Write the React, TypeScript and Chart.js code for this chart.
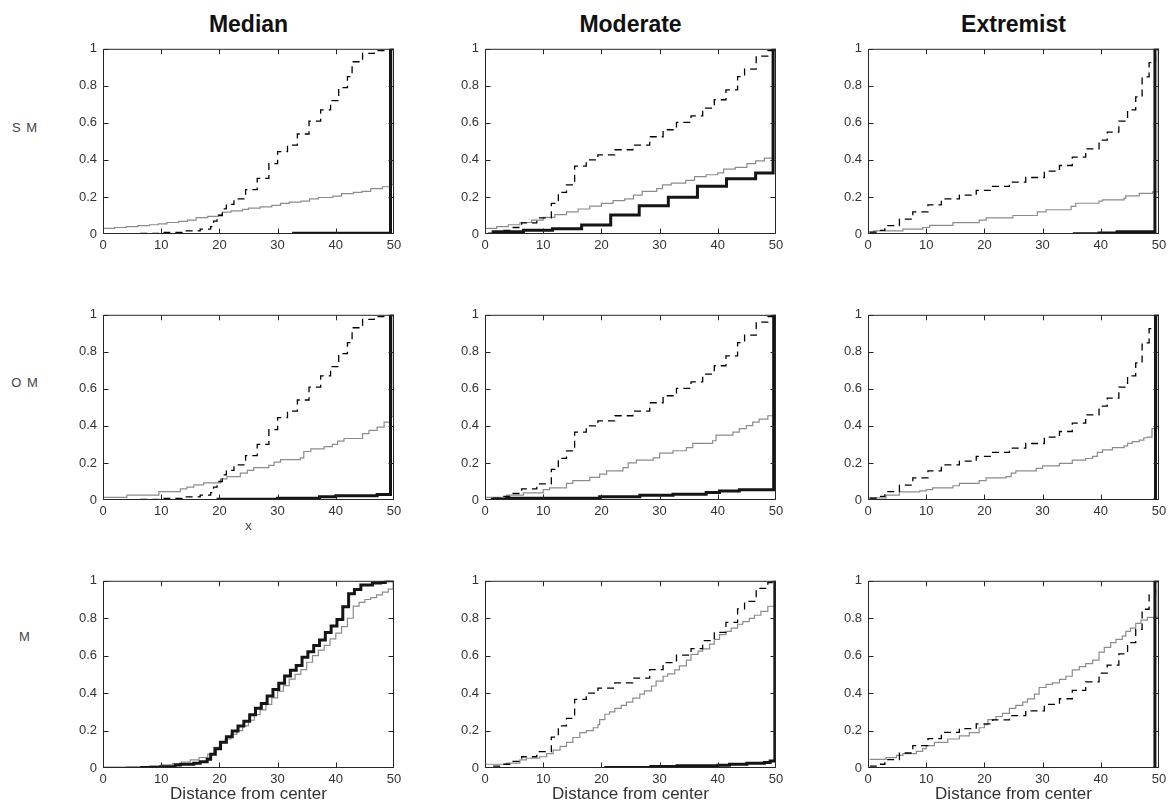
import React, { useEffect, useRef } from 'react';
import { Chart, registerables } from 'chart.js';

Chart.register(...registerables);

// ---------- tick labels / texts ----------
const X_TICKS = [0, 10, 20, 30, 40, 50];
const Y_TICKS = [0, 0.2, 0.4, 0.6, 0.8, 1];
const COLUMN_TITLES = ['Median', 'Moderate', 'Extremist'];
const ROW_LABELS = ['S M', 'O M', 'M'];
const X_AXIS_TITLE = 'Distance from center';

// ---------- reference (dashed) curves, one per column ----------
// median curve, read at each unit step (as drawn thick in the M row)
const MEDIAN_X = [6.4, 9.9, 12.4, 13.3, 15.6, 16.7, 17.9, 18.5, 19.3, 20.2, 21.2, 22.2, 23.2, 24.2, 25.2, 26.2, 27.2, 28.2, 29.2, 30.2, 31.2, 32.2, 33.2, 34.2, 35.2, 36.2, 37.2, 38.2, 39.2, 40.2, 41.2, 42.2, 43.2, 44.3, 46.3, 47.7, 48.5];
const MEDIAN_Y = [0.003, 0.007, 0.016, 0.02, 0.026, 0.034, 0.047, 0.074, 0.103, 0.138, 0.167, 0.198, 0.224, 0.25, 0.284, 0.319, 0.345, 0.384, 0.419, 0.453, 0.491, 0.522, 0.547, 0.591, 0.621, 0.655, 0.684, 0.724, 0.759, 0.793, 0.862, 0.931, 0.953, 0.978, 0.988, 0.991, 1.0];
// median curve as read from the visible dashed corners (rows S M, O M)
const MEDIAN_DASH_X = [6.4, 10.5, 13.6, 16.7, 18.5, 19.0, 19.6, 20.5, 21.2, 22.5, 24.5, 26.5, 28.5, 30.0, 31.7, 33.4, 35.4, 37.4, 39.1, 40.5, 42.0, 42.8, 44.6, 46.6, 49.5];
const MEDIAN_DASH_Y = [0.003, 0.008, 0.017, 0.026, 0.04, 0.07, 0.10, 0.136, 0.16, 0.19, 0.24, 0.30, 0.38, 0.445, 0.48, 0.54, 0.61, 0.67, 0.72, 0.79, 0.85, 0.93, 0.975, 0.99, 1.0];

const MODERATE_X = [1.4, 2.9, 4.6, 6.3, 8.9, 11.4, 12.6, 14.0, 15.4, 17.4, 19.4, 22.3, 25.4, 28.3, 30.6, 32.9, 35.4, 37.4, 39.4, 41.4, 43.4, 44.6, 46.6, 48.6, 49.8];
const MODERATE_Y = [0.01, 0.02, 0.035, 0.06, 0.087, 0.165, 0.225, 0.265, 0.367, 0.40, 0.427, 0.455, 0.48, 0.525, 0.563, 0.603, 0.638, 0.68, 0.725, 0.778, 0.85, 0.89, 0.96, 0.99, 1.0];

const EXTREMIST_X = [0.3, 1.4, 2.9, 5.4, 7.7, 10.3, 12.6, 15.7, 18.6, 21.4, 24.3, 27.1, 30.3, 32.9, 35.1, 37.4, 39.7, 41.1, 43.1, 44.6, 46.0, 47.1, 48.3, 49.4];
const EXTREMIST_Y = [0.01, 0.02, 0.045, 0.08, 0.12, 0.157, 0.19, 0.21, 0.236, 0.257, 0.28, 0.305, 0.34, 0.37, 0.415, 0.46, 0.507, 0.55, 0.61, 0.67, 0.74, 0.848, 0.925, 1.0];

// ---------- row S M ----------
const SM_MED_GRAY_X = [0, 2, 4, 6, 8, 9.5, 11, 13, 14.5, 16, 18, 19.8, 20.5, 22, 24, 25, 27, 29, 30.5, 32, 34, 35.5, 37, 39.5, 41, 43, 44.5, 46, 48, 49.6, 49.85];
const SM_MED_GRAY_Y = [0.03, 0.035, 0.04, 0.045, 0.05, 0.055, 0.062, 0.068, 0.075, 0.088, 0.095, 0.105, 0.118, 0.125, 0.133, 0.14, 0.147, 0.155, 0.165, 0.172, 0.178, 0.19, 0.197, 0.205, 0.218, 0.225, 0.23, 0.245, 0.255, 0.268, 1];
const SM_MED_THICK_X = [32.5, 49.4];
const SM_MED_THICK_Y = [0.004, 1];

const SM_MOD_GRAY_X = [0, 2, 4, 6, 8, 10, 12, 14, 16, 18, 20, 22, 24, 25.5, 27, 29.5, 30.5, 32, 34.5, 36, 38, 40, 41, 43, 45, 46.5, 48, 49.85];
const SM_MOD_GRAY_Y = [0.03, 0.04, 0.05, 0.062, 0.075, 0.09, 0.105, 0.12, 0.135, 0.15, 0.165, 0.18, 0.19, 0.21, 0.23, 0.245, 0.265, 0.275, 0.29, 0.31, 0.32, 0.33, 0.35, 0.36, 0.38, 0.395, 0.41, 1];
const SM_MOD_THICK_X = [0.5, 1.4, 6.6, 11.6, 16.6, 21.6, 26.5, 31.5, 36.5, 41.5, 46.5, 49.5];
const SM_MOD_THICK_Y = [0, 0.012, 0.02, 0.028, 0.048, 0.103, 0.152, 0.198, 0.258, 0.298, 0.33, 1];

const SM_EXT_GRAY_X = [0, 1, 6, 9.4, 10.6, 14.6, 19.1, 20.3, 24.9, 29.1, 30.6, 34.9, 35.7, 39.7, 40.3, 44, 44.3, 46.6, 48.9, 49.85];
const SM_EXT_GRAY_Y = [0.01, 0.017, 0.026, 0.035, 0.047, 0.061, 0.075, 0.087, 0.1, 0.119, 0.131, 0.149, 0.166, 0.178, 0.184, 0.192, 0.206, 0.219, 0.227, 1];
const SM_EXT_THICK_X = [35.2, 39.7, 42.8, 49.3];
const SM_EXT_THICK_Y = [0.002, 0.006, 0.012, 1];

// ---------- row O M ----------
const OM_MED_GRAY_X = [0, 4.1, 9.6, 13.3, 14.4, 15.6, 17.3, 20.2, 21.3, 23.6, 24.8, 25.9, 28.5, 29.4, 30.5, 33.9, 34.5, 35.7, 38, 39.4, 40.3, 41.4, 44.6, 45.7, 47.1, 48.3, 49.4, 49.85];
const OM_MED_GRAY_Y = [0.014, 0.026, 0.045, 0.06, 0.07, 0.082, 0.093, 0.114, 0.126, 0.145, 0.16, 0.175, 0.187, 0.205, 0.218, 0.227, 0.262, 0.276, 0.288, 0.3, 0.318, 0.332, 0.358, 0.376, 0.393, 0.42, 0.45, 1];
const OM_MED_THICK_X = [19.5, 30.0, 37.2, 40.0, 47.1, 49.4];
const OM_MED_THICK_Y = [0.004, 0.009, 0.017, 0.023, 0.03, 1];

const OM_MOD_GRAY_X = [0, 3.7, 6.6, 10, 11.1, 14, 15.1, 18, 19.7, 20.9, 23.7, 24.6, 26, 28.9, 30, 32.3, 34.6, 35.7, 39.1, 39.7, 42.6, 43.7, 44.9, 46, 47.1, 48.6, 49.85];
const OM_MOD_GRAY_Y = [0.014, 0.026, 0.038, 0.056, 0.066, 0.09, 0.105, 0.122, 0.14, 0.157, 0.175, 0.2, 0.215, 0.227, 0.253, 0.266, 0.283, 0.306, 0.32, 0.35, 0.367, 0.385, 0.402, 0.42, 0.437, 0.455, 1];
const OM_MOD_THICK_X = [1.0, 3.7, 19.7, 26.6, 32.3, 38, 40.3, 43.7, 49.6];
const OM_MOD_THICK_Y = [0.004, 0.009, 0.017, 0.026, 0.031, 0.04, 0.049, 0.056, 1];

const OM_EXT_GRAY_X = [0, 3.1, 5.4, 8.9, 10, 11.1, 14.6, 15.7, 19.1, 20.3, 23.7, 24.6, 25.4, 28.9, 30, 32.9, 35.1, 37.4, 38.6, 39.4, 40.3, 42, 44, 44.6, 45.4, 46.6, 47.4, 48, 48.8, 49.85];
const OM_EXT_GRAY_Y = [0.012, 0.026, 0.044, 0.049, 0.056, 0.065, 0.077, 0.09, 0.105, 0.119, 0.126, 0.145, 0.157, 0.171, 0.184, 0.198, 0.215, 0.224, 0.236, 0.257, 0.271, 0.283, 0.292, 0.306, 0.315, 0.323, 0.336, 0.34, 0.385, 1];
const OM_EXT_THICK_X = [49.0, 49.4];
const OM_EXT_THICK_Y = [0, 1];

// ---------- row M ----------
const M_MED_GRAY_X = [0, 4, 8, 10, 12, 13.5, 15, 16.5, 18, 19, 20, 21, 22, 23, 24, 25, 26, 27, 28, 29, 30, 31, 32, 33, 34, 35, 36, 37, 38, 39, 40, 41, 42, 43, 44, 45, 46, 47, 48, 49, 49.85];
const M_MED_GRAY_Y = [0.005, 0.008, 0.012, 0.017, 0.024, 0.032, 0.043, 0.056, 0.074, 0.11, 0.138, 0.155, 0.18, 0.2, 0.225, 0.255, 0.285, 0.31, 0.34, 0.375, 0.41, 0.44, 0.475, 0.5, 0.525, 0.565, 0.6, 0.63, 0.655, 0.69, 0.72, 0.755, 0.8, 0.865, 0.885, 0.9, 0.91, 0.925, 0.94, 0.955, 1];
const M_MED_THICK_X = MEDIAN_X;
const M_MED_THICK_Y = MEDIAN_Y;

const M_MOD_GRAY_X = [0, 3.7, 6, 7.1, 9.4, 10.6, 11.7, 12.9, 14, 15.1, 16.3, 17.4, 18.6, 19.4, 19.7, 20.6, 21.4, 22.3, 23.4, 24.3, 25.4, 26.6, 27.4, 28.6, 29.4, 30.6, 31.4, 32.6, 33.4, 34.6, 35.4, 36.6, 37.4, 38.6, 39.4, 40.3, 41.4, 42.3, 43.4, 44.3, 45.4, 46.3, 47.4, 48.6, 49.85];
const M_MOD_GRAY_Y = [0.02, 0.026, 0.043, 0.052, 0.06, 0.077, 0.095, 0.115, 0.137, 0.163, 0.189, 0.2, 0.215, 0.232, 0.258, 0.287, 0.3, 0.318, 0.335, 0.352, 0.373, 0.395, 0.412, 0.438, 0.464, 0.49, 0.503, 0.524, 0.546, 0.576, 0.607, 0.624, 0.636, 0.662, 0.687, 0.713, 0.73, 0.747, 0.768, 0.782, 0.799, 0.816, 0.837, 0.864, 1];
const M_MOD_THICK_X = [20.5, 28.5, 33.0, 40.0, 42.0, 45.0, 48.0, 49.0, 49.8];
const M_MOD_THICK_Y = [0.003, 0.008, 0.012, 0.015, 0.02, 0.025, 0.03, 0.038, 1];

const M_EXT_GRAY_X = [0.3, 3.1, 4.9, 6, 8.3, 9.4, 10, 11.4, 13.7, 15.7, 17.4, 19.1, 20, 20.6, 22, 23.1, 24.3, 25.4, 26.6, 27.4, 28.6, 29.4, 30.6, 31.7, 32.9, 34, 35.1, 36.3, 37.4, 38.6, 39.7, 40.6, 41.7, 42.6, 43.7, 44.3, 45.1, 46, 46.9, 48, 49.85];
const M_EXT_GRAY_Y = [0.046, 0.055, 0.067, 0.077, 0.089, 0.103, 0.12, 0.137, 0.155, 0.172, 0.189, 0.215, 0.232, 0.258, 0.275, 0.292, 0.318, 0.335, 0.352, 0.369, 0.395, 0.43, 0.447, 0.455, 0.473, 0.49, 0.524, 0.541, 0.558, 0.576, 0.619, 0.644, 0.67, 0.687, 0.704, 0.73, 0.747, 0.773, 0.79, 0.805, 1];
const M_EXT_THICK_X = [49.0, 49.3];
const M_EXT_THICK_Y = [0, 1];

// ---------- layout (positions only) ----------
const COL_LEFT = [103, 485, 868];
const COL_CENTER = [248.5, 630.5, 1013.5];
const PLOT_W = 291;
const ROW_TOP = [43, 309, 575];
const ROW_H = [191, 191, 193];
const Y_AXIS_W = 40;
const X_AXIS_H = 24;
const PAD_TOP = 8;
const PAD_RIGHT = 16;
const FONT = '"Liberation Sans", Arial, Helvetica, sans-serif';

type PanelData = {
  dashX: number[]; dashY: number[];
  grayX: number[]; grayY: number[];
  thickX: number[]; thickY: number[];
};

const PANELS: PanelData[][] = [
  [
    { dashX: MEDIAN_DASH_X, dashY: MEDIAN_DASH_Y, grayX: SM_MED_GRAY_X, grayY: SM_MED_GRAY_Y, thickX: SM_MED_THICK_X, thickY: SM_MED_THICK_Y },
    { dashX: MODERATE_X, dashY: MODERATE_Y, grayX: SM_MOD_GRAY_X, grayY: SM_MOD_GRAY_Y, thickX: SM_MOD_THICK_X, thickY: SM_MOD_THICK_Y },
    { dashX: EXTREMIST_X, dashY: EXTREMIST_Y, grayX: SM_EXT_GRAY_X, grayY: SM_EXT_GRAY_Y, thickX: SM_EXT_THICK_X, thickY: SM_EXT_THICK_Y },
  ],
  [
    { dashX: MEDIAN_DASH_X, dashY: MEDIAN_DASH_Y, grayX: OM_MED_GRAY_X, grayY: OM_MED_GRAY_Y, thickX: OM_MED_THICK_X, thickY: OM_MED_THICK_Y },
    { dashX: MODERATE_X, dashY: MODERATE_Y, grayX: OM_MOD_GRAY_X, grayY: OM_MOD_GRAY_Y, thickX: OM_MOD_THICK_X, thickY: OM_MOD_THICK_Y },
    { dashX: EXTREMIST_X, dashY: EXTREMIST_Y, grayX: OM_EXT_GRAY_X, grayY: OM_EXT_GRAY_Y, thickX: OM_EXT_THICK_X, thickY: OM_EXT_THICK_Y },
  ],
  [
    { dashX: MEDIAN_X, dashY: MEDIAN_Y, grayX: M_MED_GRAY_X, grayY: M_MED_GRAY_Y, thickX: M_MED_THICK_X, thickY: M_MED_THICK_Y },
    { dashX: MODERATE_X, dashY: MODERATE_Y, grayX: M_MOD_GRAY_X, grayY: M_MOD_GRAY_Y, thickX: M_MOD_THICK_X, thickY: M_MOD_THICK_Y },
    { dashX: EXTREMIST_X, dashY: EXTREMIST_Y, grayX: M_EXT_GRAY_X, grayY: M_EXT_GRAY_Y, thickX: M_EXT_THICK_X, thickY: M_EXT_THICK_Y },
  ],
];

function toPoints(xs: number[], ys: number[]) {
  const pts = xs.map((x, i) => ({ x, y: ys[i] }));
  const last = pts[pts.length - 1];
  if (last && last.x < 50) pts.push({ x: 50, y: last.y });
  return pts;
}

const framePlugin = {
  id: 'matlabFrame',
  afterDatasetsDraw(chart: any) {
    const { ctx, chartArea: a, scales } = chart;
    const L = a.left + 0.5;
    const R = a.right - 0.5;
    const T = a.top + 0.5;
    const B = a.bottom - 0.5;
    const tl = 5;
    ctx.save();
    ctx.strokeStyle = '#262626';
    ctx.lineWidth = 1;
    ctx.setLineDash([]);
    ctx.beginPath();
    ctx.rect(L, T, R - L, B - T);
    for (const v of X_TICKS) {
      const px = Math.round(scales.x.getPixelForValue(v)) + 0.5;
      const x = Math.min(Math.max(px, L), R);
      ctx.moveTo(x, B); ctx.lineTo(x, B - tl);
      ctx.moveTo(x, T); ctx.lineTo(x, T + tl);
    }
    for (const v of Y_TICKS) {
      const py = Math.round(scales.y.getPixelForValue(v)) + 0.5;
      const y = Math.min(Math.max(py, T), B);
      ctx.moveTo(L, y); ctx.lineTo(L + tl, y);
      ctx.moveTo(R, y); ctx.lineTo(R - tl, y);
    }
    ctx.stroke();
    ctx.restore();
  },
};

function Panel({ row, col }: { row: number; col: number }) {
  const ref = useRef<HTMLCanvasElement>(null);
  const h = ROW_H[row];
  const cw = PLOT_W + Y_AXIS_W + PAD_RIGHT;
  const ch = h + PAD_TOP + X_AXIS_H;
  useEffect(() => {
    const p = PANELS[row][col];
    const tickFont = { family: FONT, size: 13 };
    const chart = new Chart(ref.current as HTMLCanvasElement, {
      type: 'line',
      data: {
        datasets: [
          { label: 'thick', data: toPoints(p.thickX, p.thickY), borderColor: '#151515', borderWidth: 3, stepped: 'before', pointRadius: 0, fill: false, borderCapStyle: 'butt', borderJoinStyle: 'miter' },
          { label: 'dashed', data: toPoints(p.dashX, p.dashY), borderColor: '#000000', borderWidth: 1.3, borderDash: [7, 5], stepped: 'before', pointRadius: 0, fill: false },
          { label: 'gray', data: toPoints(p.grayX, p.grayY), borderColor: '#8c8c8c', borderWidth: 1.2, stepped: 'before', pointRadius: 0, fill: false },
        ] as any,
      },
      options: {
        animation: false,
        responsive: false,
        maintainAspectRatio: false,
        devicePixelRatio: 1,
        events: [],
        layout: { padding: { top: PAD_TOP, right: PAD_RIGHT, left: 0, bottom: 0 } },
        plugins: { legend: { display: false }, tooltip: { enabled: false }, title: { display: false } },
        scales: {
          x: {
            type: 'linear', min: 0, max: 50,
            grid: { display: false, drawTicks: false },
            border: { display: false },
            afterBuildTicks: (s: any) => { s.ticks = X_TICKS.map((v) => ({ value: v })); },
            afterFit: (s: any) => { s.height = X_AXIS_H; },
            ticks: { padding: 4, color: '#333333', font: tickFont, maxRotation: 0, autoSkip: false, callback: (v: any) => String(v) },
          },
          y: {
            type: 'linear', min: 0, max: 1,
            grid: { display: false, drawTicks: false },
            border: { display: false },
            afterBuildTicks: (s: any) => { s.ticks = Y_TICKS.map((v) => ({ value: v })); },
            afterFit: (s: any) => { s.width = Y_AXIS_W; },
            ticks: { padding: 6, color: '#333333', font: tickFont, autoSkip: false, callback: (v: any) => String(Math.round(Number(v) * 10) / 10) },
          },
        },
      } as any,
      plugins: [framePlugin],
    });
    return () => chart.destroy();
  }, [row, col]);
  return (
    <canvas
      ref={ref}
      width={cw}
      height={ch}
      style={{ position: 'absolute', left: COL_LEFT[col] - Y_AXIS_W, top: ROW_TOP[row] - PAD_TOP, width: cw, height: ch }}
    />
  );
}

function Label({ text, cx, baseline, size, bold, color, spacing }: { text: string; cx: number; baseline: number; size: number; bold?: boolean; color: string; spacing?: number }) {
  return (
    <div
      style={{
        position: 'absolute',
        left: cx,
        top: baseline - 0.8465 * size,
        transform: 'translateX(-50%)',
        fontFamily: FONT,
        fontSize: size,
        lineHeight: `${size}px`,
        fontWeight: bold ? 700 : 400,
        color,
        whiteSpace: 'nowrap',
        letterSpacing: spacing ? `${spacing}px` : undefined,
      }}
    >
      {text}
    </div>
  );
}

export default function App() {
  const rowLabelBaselines = [132.5, 387.5, 641.5];
  return (
    <div style={{ position: 'absolute', left: 0, top: 0, width: 1168, height: 803, background: '#ffffff', overflow: 'hidden' }}>
      {COLUMN_TITLES.map((t, c) => (
        <Label key={t} text={t} cx={COL_CENTER[c]} baseline={32} size={23} bold color="#111111" />
      ))}
      {ROW_LABELS.map((t, r) => (
        <Label key={t} text={t} cx={25} baseline={rowLabelBaselines[r]} size={13} color="#444444" spacing={1} />
      ))}
      {[0, 1, 2].map((r) => [0, 1, 2].map((c) => <Panel key={`${r}-${c}`} row={r} col={c} />))}
      <Label text="x" cx={COL_CENTER[0]} baseline={530.5} size={13} color="#444444" />
      {COL_CENTER.map((cx, c) => (
        <Label key={`xt${c}`} text={X_AXIS_TITLE} cx={cx} baseline={799} size={17} color="#333333" />
      ))}
    </div>
  );
}
